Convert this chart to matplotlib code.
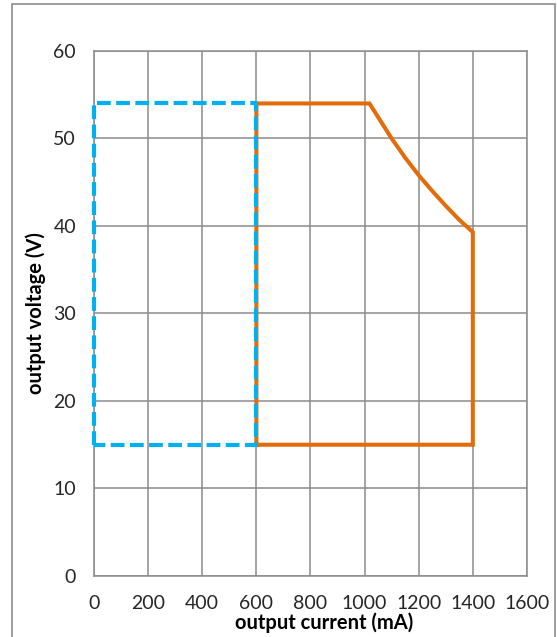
import matplotlib
matplotlib.use("Agg")
import matplotlib.pyplot as plt
from matplotlib.patches import Rectangle

# operating area
blue_current = [0, 0, 600, 600, 0]
blue_voltage = [15, 54, 54, 15, 15]

orange_current = [600, 600, 1018, 1100, 1150, 1200, 1250, 1300, 1350, 1400, 1400, 600]
orange_voltage = [15, 54, 54, 50.0, 47.8, 45.8, 44.0, 42.3, 40.7, 39.3, 15, 15]

x_ticks = [0, 200, 400, 600, 800, 1000, 1200, 1400, 1600]
y_ticks = [0, 10, 20, 30, 40, 50, 60]

plt.rcParams['font.family'] = ['Lato', 'DejaVu Sans']

fig = plt.figure(figsize=(5.57, 6.37), dpi=100)
ax = fig.add_axes([0.1688, 0.0958, 0.7772, 0.8242])

grid_col = '#8c8c8c'
ax.plot(orange_current, orange_voltage, color='#E36C0A', lw=2.9,
        solid_joinstyle='miter', zorder=3)
ax.plot(blue_current, blue_voltage, color='#00B0F0', lw=3.0,
        dashes=(3.3, 1.3), dash_capstyle='butt', zorder=4, clip_on=False)

ax.set_xlim(0, 1600)
ax.set_ylim(0, 60)
ax.set_xticks(x_ticks)
ax.set_yticks(y_ticks)
ax.grid(True, color=grid_col, lw=1.1)
ax.set_axisbelow(True)
for s in ax.spines.values():
    s.set_color(grid_col)
    s.set_linewidth(1.1)
ax.tick_params(length=0, labelsize=14, labelcolor='#262626')
ax.tick_params(axis='x', pad=14)
ax.tick_params(axis='y', pad=13)

ax.set_xlabel('output current (mA)', fontsize=14.5, fontweight='bold', labelpad=0)
ax.set_ylabel('output voltage (V)', fontsize=14.5, fontweight='bold', labelpad=5)
ax.xaxis.label.set_x(0.531)

# outer chart frame
fig.patches.append(Rectangle((12 / 557, -0.02), 543 / 557, 1 - 4 / 637 + 0.02,
                             transform=fig.transFigure, fill=False,
                             edgecolor='#8c8c8c', lw=1.2))

fig.savefig('out.png', dpi=100)
